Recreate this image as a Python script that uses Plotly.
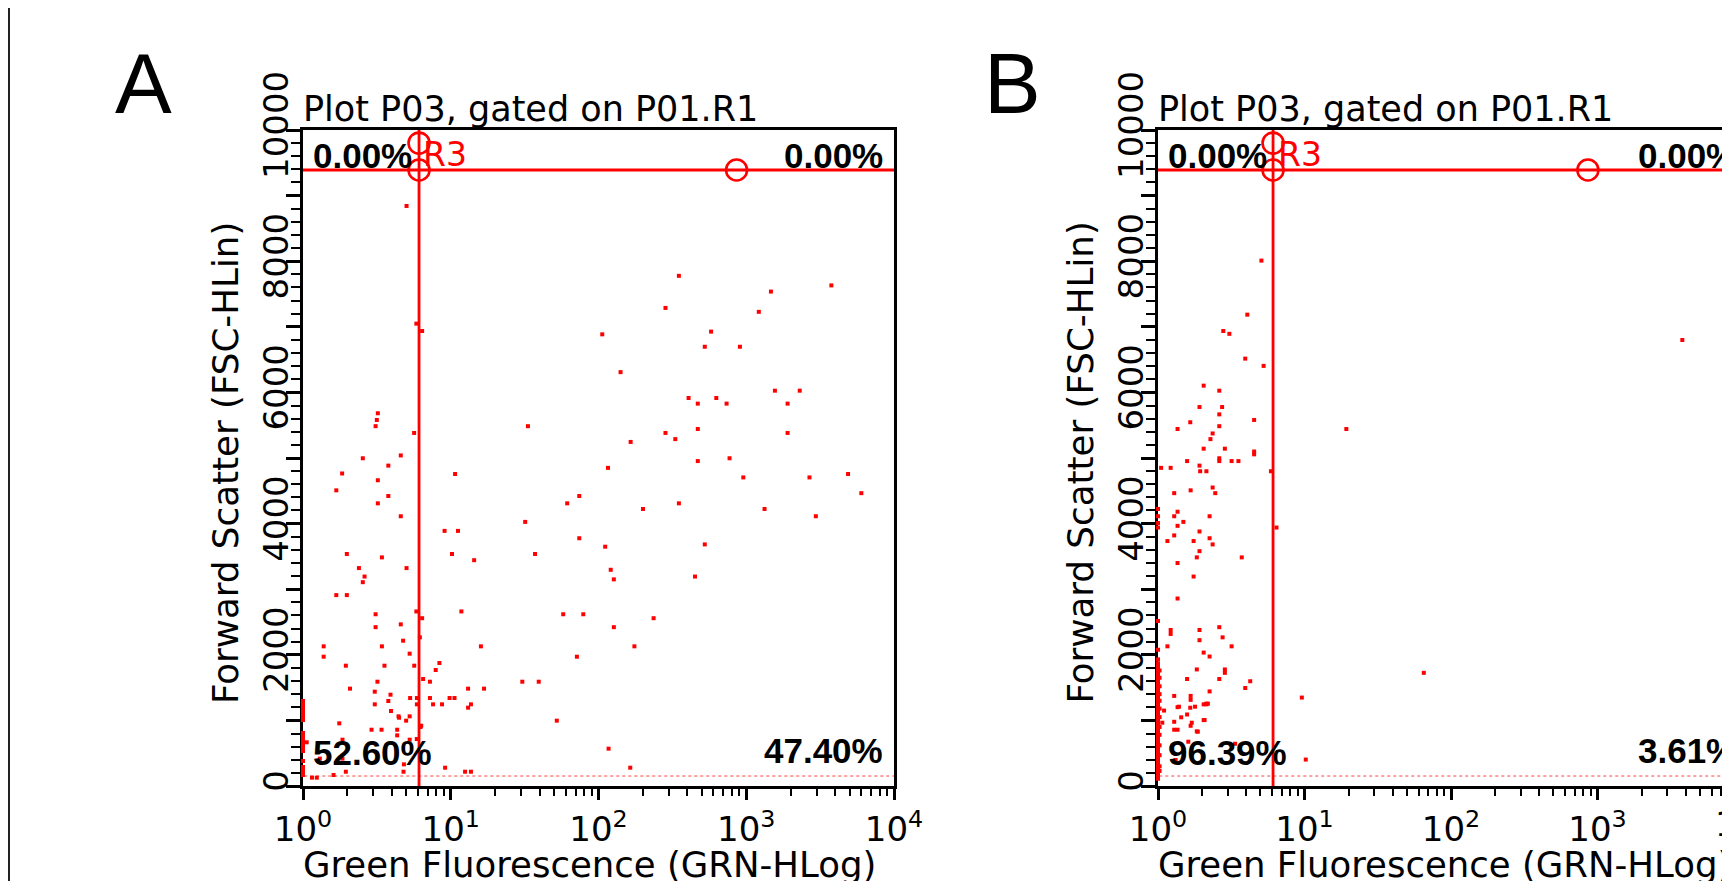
import plotly.graph_objects as go

W, H = 1730, 881
OFF = 8  # the page body margin shifts the figure by 8 px; positions below are page pixels

# ---------------- data ----------------
decades = [1, 10, 100, 1000, 10000]
decade_labels = ["10<sup>0</sup>", "10<sup>1</sup>", "10<sup>2</sup>", "10<sup>3</sup>", "10<sup>4</sup>"]
minor_x = [2, 3, 4, 5, 6, 7, 8, 9, 20, 30, 40, 50, 60, 70, 80, 90,
           200, 300, 400, 500, 600, 700, 800, 900,
           2000, 3000, 4000, 5000, 6000, 7000, 8000, 9000]
y_ticks = [0, 1000, 2000, 3000, 4000, 5000, 6000, 7000, 8000, 9000, 10000]
y_labels = ["0", "", "2000", "", "4000", "", "6000", "", "8000", "", "10000"]

# gate settings (same in both panels)
gate_x = 6.1
gate_y = 9390
low_y = 152
handle_x = [6.1, 6.1, 860]
handle_y = [9800, 9390, 9390]

pct_a = ["0.00%", "0.00%", "52.60%", "47.40%"]
pct_b = ["0.00%", "0.00%", "96.39%", "3.61%"]

# panel A events
a_x = [5.02, 5.85, 6.40, 106, 350, 284, 3767, 1469, 1216, 578, 524, 906, 141, 407, 470,
       627, 736, 1563, 2301, 1905, 1905, 284, 331, 470, 165, 33.3, 116, 470, 771, 955,
       2679, 4887, 6012, 2958, 1330, 350, 200, 61.4, 74.1, 31.9, 74.1, 37.2, 111, 121, 127,
       524, 450, 57.7, 78.9, 236, 127, 175,
       1.84, 1.68, 2.54, 3.21, 3.10, 3.16, 3.78, 4.59, 3.21, 3.78, 3.21, 4.59, 5.65, 10.7,
       9.08, 11.2, 10.2, 14.4, 1.98, 2.39, 2.61, 2.54, 3.42, 5.02, 1.68, 1.98, 3.10, 3.10,
       4.59, 5.85, 6.40, 11.8, 16.0, 3.42, 4.76, 6.18, 1.38,
       1.38, 1.95, 3.56, 5.27, 5.66, 8.38, 7.91, 71.4, 2.08, 3.19, 3.06, 3.91, 3.06, 3.78,
       3.94, 4.43, 4.47, 4.99, 5.27, 5.31, 5.90, 5.90, 6.50, 7.23, 7.23, 7.59, 8.73, 9.82,
       10.6, 13.1, 13.1, 13.7, 16.8, 30.5, 39.4, 52.2, 117, 164, 9.16, 12.5, 13.7, 4.82,
       4.79, 1.95, 1.61, 1.15, 1.24, 1.85, 1.85, 1.76, 1.06, 1.30, 5.27, 6.24, 2.91, 3.40,
       4.34, 4.34, 5.89, 6.31]
a_y = [8842, 7048, 6936, 6885, 7777, 7288, 7631, 7537, 7228, 6927, 6696, 6696, 6309, 5915, 5829,
       5915, 5829, 6026, 6026, 5829, 5382, 5382, 5288, 5442, 5245, 5485, 4850, 4953, 4996, 4704,
       4704, 4756, 4464, 4112, 4223, 4309, 4223, 4309, 4421, 4026, 3777, 3537, 3648, 3296, 3150,
       3683, 3193, 2618, 2618, 2558, 2421, 2129,
       4764, 4507, 4996, 5682, 5485, 5580, 4884, 5039, 4661, 4421, 4309, 4112, 5382, 4756,
       3889, 3889, 3537, 3442, 3537, 3322, 3193, 3107, 3485, 3322, 2910, 2910, 2618, 2421,
       2464, 2661, 2558, 2661, 2129, 2129, 2215, 2266, 2129,
       1971, 1834, 1834, 2017, 1834, 1875, 1768, 1971, 1484, 1590, 1438, 1392, 1245, 1296,
       1143, 1062, 1041, 996, 1062, 1341, 1341, 1245, 1631, 1590, 1341, 1245, 1245, 1341,
       1341, 1484, 1194, 1245, 1484, 1590, 1590, 996, 569, 279, 279, 218, 218, 330,
       218, 218, 168, 127, 127, 706, 417, 955, 666, 417, 706, 899, 858, 858,
       858, 772, 716, 919]
# events piled on the lower x limit (x = 1)
a_edge_y = [168, 200, 244, 290, 381, 533, 560, 600, 640, 700, 760, 808, 1006, 1030, 1067,
            1100, 1140, 1180, 1220, 1250, 1296]

# panel B events
b_x = [5.08, 4.07, 2.79, 3.07, 3.94, 5.26, 3793, 2.05, 2.62, 1.92, 2.74, 2.62, 1.66, 4.53,
       1.36, 2.62, 2.36, 2.28, 2.05, 2.86, 4.53, 4.53, 1.58, 1.92, 2.62, 2.62, 3.18, 3.54,
       1.94, 2.14, 1.05, 1.22, 5.90, 19.3, 1.67, 1.29, 2.36, 2.46, 1.29, 1.36, 1.36, 1.49,
       2.25, 1.92, 1.29, 1.16, 1.75, 2.25, 2.36, 6.44, 1.92, 1.84, 3.73, 1.36, 1.75, 1.36,
       1.22, 1.22, 1.92, 2.62, 1.92, 2.76, 3.18, 1.16, 2.05, 2.25, 2.86, 2.86, 1.84, 1.58,
       2.62, 4.26, 3.94, 2.25, 65.2, 9.59, 1.29, 1.67, 1.67, 2.05, 2.14, 1.58, 1.36, 1.10,
       1.66, 1.44, 2.05, 1.29, 1.84, 1.29, 1.36, 1.67, 10.2, 3.36, 1.61, 1.32, 1.87, 1.07,
       2.08, 1.70, 2.14, 2.19, 1.79, 1.39]
b_y = [8009, 7185, 6936, 6893, 6515, 6404, 6799, 6103, 6026, 5777, 5777, 5665, 5545, 5580,
       5442, 5485, 5374, 5288, 5142, 5142, 5099, 5056, 4953, 4884, 4996, 4953, 4953, 4953,
       4798, 4798, 4850, 4850, 4798, 5442, 4507, 4464, 4550, 4464, 4112, 4181, 3966, 4026,
       4112, 3880, 3820, 3734, 3734, 3777, 3683, 3940, 3580, 3485, 3485, 3399, 3193, 2858,
       2378, 2318, 2378, 2421, 2223, 2266, 2129, 2129, 2034, 1974, 1777, 1725, 1777, 1631,
       1631, 1597, 1494, 1442, 1725, 1348, 1373, 1373, 1313, 1245, 1245, 1090, 1202, 1150,
       1193, 1047, 1004, 979, 833, 858, 858, 918, 403, 644, 675, 396, 828, 965,
       1006, 965, 1255, 1255, 1209, 1209]
b_edge_y = [110, 150, 190, 235, 280, 320, 365, 410, 450, 495, 540, 585, 625, 670, 715, 760,
            800, 845, 890, 935, 975, 1020, 1065, 1110, 1150, 1195, 1240, 1285, 1330, 1370,
            1415, 1460, 1500, 1545, 1590, 1635, 1680, 1725, 1770, 1820, 1870, 1930, 2077,
            2515, 3940, 4009, 4112, 4223]
b_edge2_y = [230, 300, 470, 620, 780, 900, 1050, 1180, 1300, 1400, 1520, 1650, 1760]

# ---------------- layout geometry (page pixels) ----------------
A_L, A_R, TOP, BOT = 303, 894, 130, 786
B_L = 1158
DEC_B = 146.5
B_MAXLOG = (W + OFF - B_L) / DEC_B
DX = 854.5

RED = "#ff0000"
SANS = "DejaVu Sans"
ARIAL = "Liberation Sans"


def fx(p):
    return (p - OFF) / W


def fy(p):
    return 1 - (p - OFF) / H


fig = go.Figure()


def add_panel(xs, ys, edge_y, edge2_y, xref, yref):
    kw = dict(xaxis=xref, yaxis=yref, showlegend=False, hoverinfo="skip")
    mk = dict(symbol="square", size=4, color=RED, line=dict(width=0))
    fig.add_trace(go.Scatter(x=xs, y=ys, mode="markers", cliponaxis=False, marker=mk, **kw))
    fig.add_trace(go.Scatter(x=[1.0] * len(edge_y), y=edge_y, mode="markers", cliponaxis=False,
                             marker=mk, **kw))
    if edge2_y:
        fig.add_trace(go.Scatter(x=[1.025] * len(edge2_y), y=edge2_y, mode="markers",
                                 cliponaxis=False, marker=mk, **kw))
    fig.add_trace(go.Scatter(x=[1.02, 10000], y=[low_y, low_y], mode="lines",
                             line=dict(color="rgba(255,0,0,0.75)", width=1, dash="dot"), **kw))
    fig.add_trace(go.Scatter(x=[gate_x, gate_x], y=[0, 10000], mode="lines",
                             line=dict(color=RED, width=2.8), **kw))
    fig.add_trace(go.Scatter(x=[1, 10000], y=[gate_y, gate_y], mode="lines",
                             line=dict(color=RED, width=2.8), **kw))
    fig.add_trace(go.Scatter(x=handle_x, y=handle_y, mode="markers", cliponaxis=False,
                             marker=dict(symbol="circle-open", size=21, color=RED,
                                         line=dict(width=2.6, color=RED)), **kw))


add_panel(a_x, a_y, a_edge_y, [], "x", "y")
add_panel(b_x, b_y, b_edge_y, b_edge2_y, "x2", "y2")

tickfont = dict(family=SANS, size=34, color="black")


def xaxis(domain, rng, anchor):
    return dict(type="log", domain=domain, range=rng, anchor=anchor,
                tickmode="array", tickvals=decades, ticktext=decade_labels,
                ticks="outside", ticklen=11, tickwidth=2.5, tickcolor="black",
                minor=dict(tickmode="array", tickvals=minor_x, ticks="outside", ticklen=7,
                           tickwidth=2.2, tickcolor="black", showgrid=False),
                showline=True, linewidth=3, linecolor="black", mirror=True,
                showgrid=False, zeroline=False, tickfont=tickfont, layer="below traces",
                automargin=False, fixedrange=True)


def yaxis(domain, anchor, mirror):
    return dict(domain=domain, range=[0, 10000], anchor=anchor,
                tickmode="array", tickvals=y_ticks, ticktext=y_labels, tickangle=-90,
                ticks="outside", ticklen=14, tickwidth=2.5, tickcolor="black",
                ticklabelstandoff=-16,
                minor=dict(tick0=0, dtick=200, ticks="outside", ticklen=9, tickwidth=2.2,
                           tickcolor="black", showgrid=False),
                showline=True, linewidth=3, linecolor="black", mirror=mirror,
                showgrid=False, zeroline=False, tickfont=tickfont, layer="below traces",
                automargin=False, fixedrange=True)


ydom = [fy(BOT), fy(TOP)]
fig.update_layout(
    width=W, height=H,
    margin=dict(l=0, r=0, t=0, b=0, pad=0, autoexpand=False),
    paper_bgcolor="white", plot_bgcolor="white",
    xaxis=xaxis([fx(A_L), fx(A_R)], [0, 4], "y"),
    yaxis=yaxis(ydom, "x", True),
    xaxis2=xaxis([fx(B_L), 1.0], [0, B_MAXLOG], "y2"),
    yaxis2=yaxis(ydom, "x2", False),
)

anns = []


def ann(text, xp, yp, size, family=SANS, xanchor="left", color="black", angle=0):
    anns.append(dict(text=text, x=fx(xp), y=fy(yp), xref="paper", yref="paper",
                     xanchor=xanchor, yanchor="middle", showarrow=False, textangle=angle,
                     font=dict(family=family, size=size, color=color)))


letters = [("A", 143.5), ("B", 1012)]
for i, pct in enumerate([pct_a, pct_b]):
    d = i * DX
    ann(letters[i][0], letters[i][1], 83.5, 85, family=ARIAL, xanchor="center")
    ann("Plot P03, gated on P01.R1", 301 + d, 109, 35)
    ann("<b>%s</b>" % pct[0], 311 + d, 155.5, 35, family=ARIAL)
    ann("<b>%s</b>" % pct[1], 885 + d, 155.5, 35, family=ARIAL, xanchor="right")
    ann("<b>%s</b>" % pct[2], 311 + d, 752.5, 35, family=ARIAL)
    ann("<b>%s</b>" % pct[3], 885 + d, 750.5, 35, family=ARIAL, xanchor="right")
    ann("R3", 421 + d, 154, 33, color=RED)
    ann("Green Fluorescence (GRN-HLog)", 301 + d, 864, 35.5)
    ann("Forward Scatter (FSC-HLin)", 226 + d, 463, 35.7, xanchor="center", angle=-90)

# 10^4 label of panel B, mostly beyond the right edge of the page
anns.append(dict(text=decade_labels[4], x=fx(B_L + 4 * DEC_B), y=fy(822), xref="paper", yref="paper",
                 xanchor="center", yanchor="middle", showarrow=False, font=tickfont))
fig.update_layout(annotations=anns)

# left frame line
fig.add_shape(type="line", xref="paper", yref="paper", x0=fx(9), x1=fx(9), y0=0, y1=1,
              line=dict(color="#222222", width=2))

fig.write_html("out.html")
